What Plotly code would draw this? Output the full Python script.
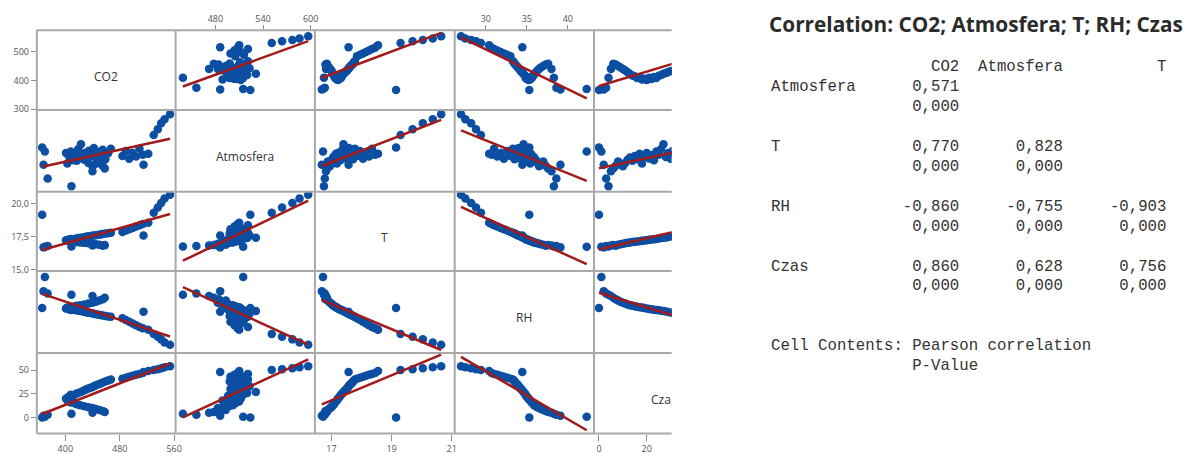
import numpy as np
import plotly.graph_objects as go

W, H = 1191, 455

# ---------------- data ----------------
czas = list(range(55))
co2 = [366, 370, 368, 374, 409,
       440, 458, 455, 450, 445, 440, 434, 428, 422, 417,
       414, 408, 411, 403, 406, 401, 409, 405, 412, 408,
       416, 419, 423, 426, 429, 432, 435, 439, 442, 445, 449, 452, 455, 459, 463, 467,
       484, 489, 494, 499, 504, 509, 514, 515, 522,
       530, 536, 541, 546, 554]
atmosfera = [524, 515, 486, 456, 439,
             472, 478, 484, 493, 488, 483, 490, 497, 502, 495,
             505, 498, 510, 489, 503, 512, 500, 507, 496, 515,
             508, 520, 531, 503, 512, 499, 517, 506, 523, 501, 514, 509, 519, 498, 511, 521,
             505, 516, 499, 512, 504, 521, 508, 486, 510,
             551, 564, 577, 586, 597]
temp = [19.15, 16.72, 16.68, 16.78, 16.75,
        16.82, 16.85, 16.80, 16.88, 16.92, 16.95, 17.00, 17.02, 17.05, 17.08,
        17.10, 17.12, 17.15, 17.18, 17.20, 17.22, 17.25, 17.27, 17.30, 17.32,
        17.35, 17.38, 17.40, 17.43, 17.46, 17.50, 17.52, 17.55, 17.58, 17.60, 17.63, 17.66, 17.70, 17.72, 17.75, 17.78,
        17.85, 17.95, 18.05, 18.15, 18.25, 18.35, 18.45, 17.57, 18.55,
        19.30, 19.70, 20.04, 20.37, 20.65]
rh = [35.3, 42.3, 39.1, 38.6, 38.3,
      38.0, 37.6, 37.3, 37.0, 36.7, 36.5, 36.3, 36.1, 35.9, 35.8,
      35.7, 35.6, 35.5, 35.4, 35.3, 35.2, 35.1, 35.0, 34.9, 34.85,
      34.8, 34.7, 34.6, 34.5, 34.4, 34.3, 34.2, 34.1, 34.0, 33.9, 33.8, 33.7, 33.6, 33.5, 33.4, 33.3,
      33.0, 32.6, 32.2, 31.8, 31.4, 31.0, 30.7, 34.45, 30.4,
      29.4, 28.8, 28.2, 27.5, 26.97]

var_names = ["CO2", "Atmosfera", "T", "RH", "Czas"]
diag_text = ["CO2", "Atmosfera", "T", "RH", "Cza"]

# tick labels
co2_y_ticks = [300, 400, 500];      co2_y_text = ["300", "400", "500"]
t_y_ticks = [15, 17.5, 20];         t_y_text = ["15,0", "17,5", "20,0"]
czas_y_ticks = [0, 25, 50];         czas_y_text = ["0", "25", "50"]
co2_x_ticks = [400, 480, 560];      co2_x_text = ["400", "480", "560"]
atm_x_ticks = [480, 540, 600];      atm_x_text = ["480", "540", "600"]
t_x_ticks = [17, 19, 21];           t_x_text = ["17", "19", "21"]
rh_x_ticks = [30, 35, 40];          rh_x_text = ["30", "35", "40"]
czas_x_ticks = [0, 20, 40];         czas_x_text = ["0", "20", "40"]

# correlation table
corr_cols = ["CO2", "Atmosfera", "T"]
corr_rows = ["Atmosfera", "T", "RH", "Czas"]
corr_r = [[0.571], [0.770, 0.828], [-0.860, -0.755, -0.903], [0.860, 0.628, 0.756]]
corr_p = [[0.000], [0.000, 0.000], [0.000, 0.000, 0.000], [0.000, 0.000, 0.000]]
title_text = "Correlation: CO2; Atmosfera; T; RH; Czas"

# ---------------- layout config ----------------
values = {"CO2": co2, "Atmosfera": atmosfera, "T": temp, "RH": rh, "Czas": czas}
x_ranges = {"CO2": [358.1, 562.2], "Atmosfera": [429.8, 605.4], "T": [16.45, 21.1],
            "RH": [26.2, 43.19], "Czas": [-2.08, 30.4]}
y_ranges = {"CO2": [296.6, 574.4], "Atmosfera": [427, 606], "T": [14.9, 20.89],
            "RH": [25.1, 43.7], "Czas": [-16.8, 67.9]}
col_px = [37, 176.5, 316.5, 457, 597, 675]
row_px = [31, 112.5, 196, 277, 361, 443.3]

y_tick_cfg = {0: (co2_y_ticks, co2_y_text), 2: (t_y_ticks, t_y_text), 4: (czas_y_ticks, czas_y_text)}
x_bottom_cfg = {0: (co2_x_ticks, co2_x_text), 2: (t_x_ticks, t_x_text), 4: (czas_x_ticks, czas_x_text)}
x_top_cfg = {1: (atm_x_ticks, atm_x_text), 3: (rh_x_ticks, rh_x_text)}

DOT = "#0B4EA2"
FIT = "#A31A1A"
FRAME = "#A8A8A8"
TICKC = "#8A8A8A"
TICKFONT = dict(family="Open Sans", size=9, color="#555555")

fig = go.Figure()
layout = dict(width=W, height=H, autosize=False, margin=dict(l=0, r=0, t=0, b=0),
              paper_bgcolor="white", plot_bgcolor="white", showlegend=False)
annotations = []
shapes = []

for r in range(5):
    for c in range(5):
        k = r * 5 + c + 1
        xname = "x" if k == 1 else f"x{k}"
        yname = "y" if k == 1 else f"y{k}"
        xkey = "xaxis" if k == 1 else f"xaxis{k}"
        ykey = "yaxis" if k == 1 else f"yaxis{k}"
        vx, vy = var_names[c], var_names[r]

        xa = dict(domain=[col_px[c] / W, col_px[c + 1] / W], range=x_ranges[vx], anchor=yname,
                  showgrid=False, zeroline=False, showline=False,
                  showticklabels=False, ticks="", fixedrange=True)
        ya = dict(domain=[1 - row_px[r + 1] / H, 1 - row_px[r] / H], range=y_ranges[vy], anchor=xname,
                  showgrid=False, zeroline=False, showline=False,
                  showticklabels=False, ticks="", fixedrange=True)
        if r == 4 and c in x_bottom_cfg:
            tv, tt = x_bottom_cfg[c]
            xa.update(side="bottom", ticks="outside", ticklen=6, tickwidth=1, tickcolor=TICKC,
                      tickvals=tv, ticktext=tt, showticklabels=True, tickfont=TICKFONT,
                      ticklabelstandoff=1)
        if r == 0 and c in x_top_cfg:
            tv, tt = x_top_cfg[c]
            xa.update(side="top", ticks="outside", ticklen=4, tickwidth=1, tickcolor=TICKC,
                      tickvals=tv, ticktext=tt, showticklabels=True, tickfont=TICKFONT,
                      ticklabelstandoff=0)
        if c == 0 and r in y_tick_cfg:
            tv, tt = y_tick_cfg[r]
            ya.update(side="left", ticks="outside", ticklen=5, tickwidth=1, tickcolor=TICKC,
                      tickvals=tv, ticktext=tt, showticklabels=True, tickfont=TICKFONT,
                      ticklabelstandoff=0)
        layout[xkey] = xa
        layout[ykey] = ya

        if r == c:
            # empty trace so that the axes of the diagonal cell are drawn
            fig.add_trace(go.Scatter(x=[], y=[], mode="markers", xaxis=xname, yaxis=yname,
                                     hoverinfo="skip"))
            cx = (col_px[c] + col_px[c + 1]) / 2
            cy = (row_px[r] + row_px[r + 1]) / 2 + 6
            if c == 4:
                annotations.append(dict(x=652 / W, y=1 - cy / H, xref="paper", yref="paper",
                                        text=diag_text[c], showarrow=False, xanchor="left",
                                        yanchor="middle",
                                        font=dict(family="Open Sans", size=12, color="#333333")))
            else:
                annotations.append(dict(x=cx / W, y=1 - cy / H, xref="paper", yref="paper",
                                        text=diag_text[c], showarrow=False, xanchor="center",
                                        yanchor="middle",
                                        font=dict(family="Open Sans", size=12, color="#333333")))
            continue

        xs = np.array(values[vx], dtype=float)
        ys = np.array(values[vy], dtype=float)
        fig.add_trace(go.Scatter(x=xs, y=ys, mode="markers", xaxis=xname, yaxis=yname,
                                 marker=dict(size=8.5, color=DOT, line=dict(width=0)),
                                 hoverinfo="skip"))
        slope, icpt = np.polyfit(xs, ys, 1)
        xl = np.array([xs.min(), xs.max()])
        fig.add_trace(go.Scatter(x=xl, y=slope * xl + icpt, mode="lines", xaxis=xname, yaxis=yname,
                                 line=dict(color=FIT, width=2.5), hoverinfo="skip"))

# cell frame lines
for xp in col_px[:5]:
    shapes.append(dict(type="line", xref="paper", yref="paper", layer="above",
                       x0=xp / W, x1=xp / W, y0=1 - row_px[0] / H, y1=1 - row_px[5] / H,
                       line=dict(color=FRAME, width=2)))
for yp in row_px:
    shapes.append(dict(type="line", xref="paper", yref="paper", layer="above",
                       x0=col_px[0] / W, x1=col_px[5] / W, y0=1 - yp / H, y1=1 - yp / H,
                       line=dict(color=FRAME, width=2)))

# ---------------- correlation text block ----------------
def fmt(v):
    return f"{v:.3f}".replace(".", ",")

lines = []
header = " " * 14 + corr_cols[0].rjust(6) + "".join(s.rjust(11) for s in corr_cols[1:])
lines.append((0, header))
n = 1
for i, name in enumerate(corr_rows):
    rline = name.ljust(14) + fmt(corr_r[i][0]).rjust(6) + "".join(fmt(v).rjust(11) for v in corr_r[i][1:])
    pline = " " * 14 + fmt(corr_p[i][0]).rjust(6) + "".join(fmt(v).rjust(11) for v in corr_p[i][1:])
    lines.append((n, rline))
    lines.append((n + 1, pline))
    n += 3
lines.append((14, "Cell Contents: Pearson correlation"))
lines.append((15, " " * 15 + "P-Value"))

for idx, txt in lines:
    ypx = 69 + idx * 20.35
    annotations.append(dict(x=773 / W, y=1 - ypx / H, xref="paper", yref="paper",
                            text=txt.replace(" ", "\u00a0"), showarrow=False,
                            xanchor="left", yanchor="middle",
                            font=dict(family="Liberation Mono", size=15.7, color="#333333")))

annotations.append(dict(x=771 / W, y=1 - 25 / H, xref="paper", yref="paper",
                        text="<b>" + title_text + "</b>", showarrow=False,
                        xanchor="left", yanchor="middle",
                        font=dict(family="Open Sans", size=20.8, color="#2b2b2b")))

layout["annotations"] = annotations
layout["shapes"] = shapes
fig.update_layout(**layout)
fig.write_html("out.html")
